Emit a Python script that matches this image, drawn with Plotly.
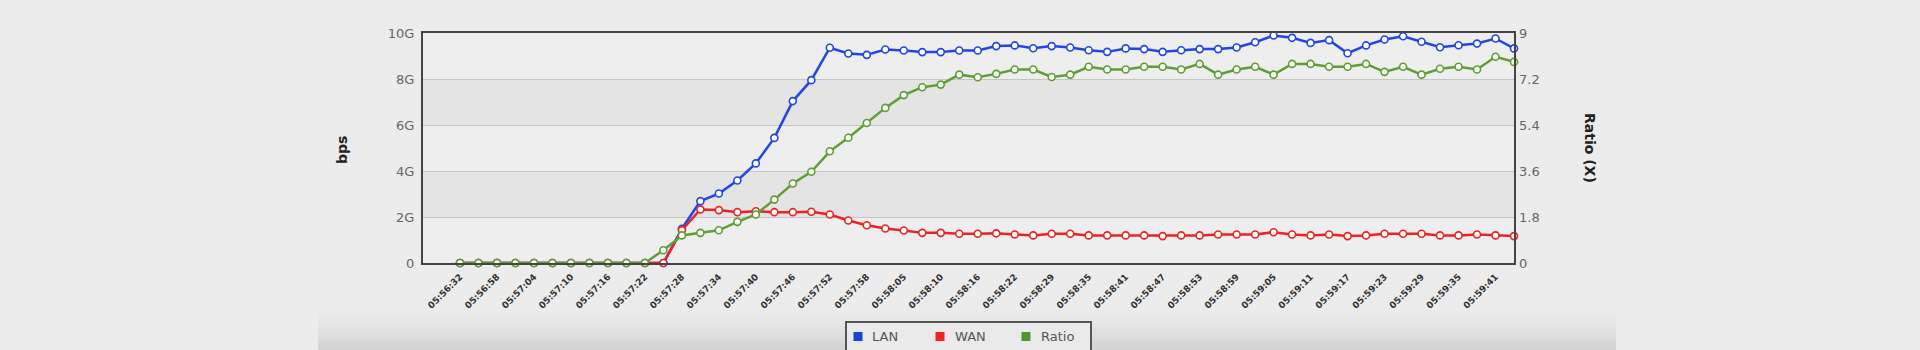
import plotly.graph_objects as go

# Throughput samples (Gbps) and LAN/WAN ratio, one sample per point
lan_gbps = [0, 0, 0, 0, 0, 0, 0, 0, 0, 0, 0, 0,
            1.49, 2.69, 3.02, 3.59, 4.33, 5.44, 7.04, 7.95, 9.36, 9.11, 9.05, 9.28,
            9.24, 9.17, 9.17, 9.24, 9.24, 9.43, 9.46, 9.34, 9.43, 9.37, 9.25, 9.18,
            9.33, 9.30, 9.18, 9.25, 9.30, 9.30, 9.37, 9.60, 9.89, 9.79, 9.57, 9.69,
            9.12, 9.46, 9.72, 9.86, 9.62, 9.38, 9.47, 9.54, 9.76, 9.33]
wan_gbps = [0, 0, 0, 0, 0, 0, 0, 0, 0, 0, 0, 0,
            1.43, 2.33, 2.30, 2.21, 2.25, 2.21, 2.21, 2.23, 2.11, 1.85, 1.64, 1.50,
            1.41, 1.31, 1.31, 1.27, 1.27, 1.29, 1.24, 1.20, 1.27, 1.27, 1.20, 1.20,
            1.20, 1.20, 1.17, 1.20, 1.20, 1.24, 1.24, 1.24, 1.34, 1.24, 1.20, 1.24,
            1.17, 1.20, 1.27, 1.27, 1.27, 1.20, 1.20, 1.24, 1.20, 1.17]
ratio_x = [0, 0, 0, 0, 0, 0, 0, 0, 0, 0, 0,
           0.50, 1.08, 1.18, 1.28, 1.61, 1.90, 2.48, 3.11, 3.57, 4.37, 4.90, 5.48,
           6.07, 6.57, 6.88, 6.98, 7.37, 7.27, 7.40, 7.57, 7.57, 7.28, 7.37, 7.68,
           7.57, 7.57, 7.68, 7.68, 7.57, 7.79, 7.37, 7.57, 7.68, 7.37, 7.79, 7.79,
           7.68, 7.68, 7.79, 7.48, 7.68, 7.37, 7.60, 7.68, 7.57, 8.07, 7.87]

# Time labels, shown on every second sample
time_labels = ["05:56:32", "05:56:58", "05:57:04", "05:57:10", "05:57:16", "05:57:22",
               "05:57:28", "05:57:34", "05:57:40", "05:57:46", "05:57:52", "05:57:58",
               "05:58:05", "05:58:10", "05:58:16", "05:58:22", "05:58:29", "05:58:35",
               "05:58:41", "05:58:47", "05:58:53", "05:58:59", "05:59:05", "05:59:11",
               "05:59:17", "05:59:23", "05:59:29", "05:59:35", "05:59:41"]

bps_ticks = [0, 2, 4, 6, 8, 10]
bps_tick_text = ["0", "2G", "4G", "6G", "8G", "10G"]
ratio_ticks = [0, 1.8, 3.6, 5.4, 7.2, 9]
ratio_tick_text = ["0", "1.8", "3.6", "5.4", "7.2", "9"]

series_names = ["LAN", "WAN", "Ratio"]
series_colors = ["#2246e4", "#ec2323", "#5f9e33"]
legend_colors = ["#1444d8", "#f02222", "#4f9530"]

W, H = 1920, 350
L, R, T, B = 423, 406, 33, 87
pw, ph = W - L - R, H - T - B

def px_x(x):
    return (x - L) / pw

def px_y(y):
    return (H - B - y) / ph

sample_idx = list(range(len(lan_gbps)))

fig = go.Figure()
for name, ys, color, axis in [
    ("LAN", lan_gbps, series_colors[0], "y"),
    ("WAN", wan_gbps, series_colors[1], "y"),
    ("Ratio", ratio_x, series_colors[2], "y2"),
]:
    fig.add_trace(go.Scatter(
        x=sample_idx, y=ys, name=name, yaxis=axis, mode="lines+markers",
        line=dict(color=color, width=2.5),
        marker=dict(size=7, color="white", line=dict(color=color, width=1.6)),
        cliponaxis=False, showlegend=False,
    ))

shapes = []
# alternating plot bands
for lo, hi in [(2, 4), (6, 8)]:
    shapes.append(dict(type="rect", xref="paper", yref="y", x0=0, x1=1, y0=lo, y1=hi,
                       fillcolor="#e4e4e4", line=dict(width=0), layer="below"))

# shaded footer strip of the chart container
footer_steps = 12
for k in range(footer_steps):
    y0 = 306 + k * (44 / footer_steps)
    y1 = y0 + 44 / footer_steps + 0.5
    g = int(236 - (236 - 212) * (k / (footer_steps - 1)) ** 1.4)
    shapes.append(dict(type="rect", xref="paper", yref="paper",
                       x0=px_x(318), x1=px_x(1616), y0=px_y(y1), y1=px_y(y0),
                       fillcolor=f"rgb({g},{g},{g})", line=dict(width=0), layer="below"))

# legend box
shapes.append(dict(type="rect", xref="paper", yref="paper",
                   x0=px_x(846), x1=px_x(1091), y0=px_y(356), y1=px_y(322),
                   fillcolor="#eaeaea", line=dict(color="#555555", width=2)))

annotations = []
legend_pos = [(858, 870), (940, 953), (1026, 1039)]
for (sq_x, tx), name, color in zip(legend_pos, series_names, legend_colors):
    shapes.append(dict(type="rect", xref="paper", yref="paper",
                       x0=px_x(sq_x - 4.5), x1=px_x(sq_x + 4.5),
                       y0=px_y(341), y1=px_y(332),
                       fillcolor=color, line=dict(width=0)))
    annotations.append(dict(xref="paper", yref="paper", x=px_x(tx), y=px_y(336.5),
                            text=name, showarrow=False, xanchor="left", yanchor="middle",
                            font=dict(family="DejaVu Sans", size=13, color="#555555")))

annotations.append(dict(xref="paper", yref="paper", x=px_x(342), y=px_y(150),
                        text="<b>bps</b>", showarrow=False, textangle=-90,
                        xanchor="center", yanchor="middle",
                        font=dict(family="DejaVu Sans", size=14, color="#222222")))
annotations.append(dict(xref="paper", yref="paper", x=px_x(1590), y=px_y(148),
                        text="<b>Ratio (X)</b>", showarrow=False, textangle=90,
                        xanchor="center", yanchor="middle",
                        font=dict(family="DejaVu Sans", size=14, color="#222222")))

fig.update_layout(
    width=W, height=H,
    margin=dict(l=L, r=R, t=T, b=B, pad=0),
    paper_bgcolor="#ececec",
    plot_bgcolor="#eeeeee",
    font=dict(family="DejaVu Sans", color="#666666"),
    showlegend=False,
    shapes=shapes,
    annotations=annotations,
    xaxis=dict(
        range=[-2, 57], tickmode="array",
        tickvals=sample_idx[::2], ticktext=time_labels,
        tickangle=-45, tickfont=dict(size=9, color="#333333", weight="bold"),
        showgrid=False, zeroline=False,
        showline=True, linecolor="#444444", linewidth=2, mirror=True,
        ticks="", ticklabelstandoff=3,
    ),
    yaxis=dict(
        range=[0, 10], tickmode="array", tickvals=bps_ticks, ticktext=bps_tick_text,
        tickfont=dict(size=13, color="#666666"),
        showgrid=True, gridcolor="#c6c6c6", gridwidth=1, zeroline=False,
        showline=True, linecolor="#444444", linewidth=2, mirror=True,
        ticks="", ticklabelstandoff=4,
    ),
    yaxis2=dict(
        range=[0, 9], overlaying="y", side="right", tickmode="array",
        tickvals=ratio_ticks, ticktext=ratio_tick_text,
        tickfont=dict(size=13, color="#666666"),
        showgrid=False, zeroline=False, showline=False, ticks="",
        ticklabelstandoff=4,
    ),
)

fig.write_html("out.html")
